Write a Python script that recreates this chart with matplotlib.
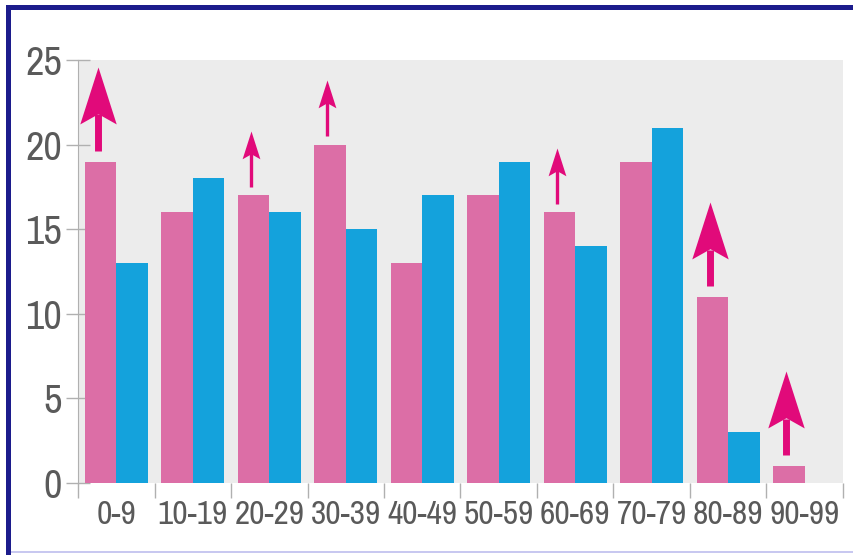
import matplotlib
matplotlib.use("Agg")
import matplotlib.pyplot as plt
from matplotlib import font_manager
from matplotlib.patches import Rectangle
from matplotlib.path import Path
import numpy as np

# data
categories = ['0-9', '10-19', '20-29', '30-39', '40-49',
              '50-59', '60-69', '70-79', '80-89', '90-99']
pink_values = [19, 16, 17, 20, 13, 17, 16, 19, 11, 1]
blue_values = [13, 18, 16, 15, 17, 19, 14, 21, 3, 0]
y_ticks = [0, 5, 10, 15, 20, 25]

# arrows drawn above some pink bars
arrow_cats = ['0-9', '20-29', '30-39', '60-69', '80-89', '90-99']
arrow_big = [True, False, False, False, True, True]

PINK = '#dc6ea6'
BLUE = '#14a2dc'
MAGENTA = '#e10a7a'
NAVY = '#1c1c8c'
TEXT = '#5a5a5a'
TICK = '#b0b0b0'

# the labels use a narrow sans; take one if it is installed
names = sorted({f.name for f in font_manager.fontManager.ttflist})
narrow = [n for n in names if 'Narrow' in n or 'Condensed' in n]
if narrow:
    fam, ysize, xsize = narrow[0], 29, 24
else:
    fam, ysize, xsize = 'Roboto', 24, 19
plt.rcParams['font.family'] = [fam, 'DejaVu Sans']

W, H = 854, 555
fig = plt.figure(figsize=(W / 100, H / 100), dpi=100)
fig.patch.set_facecolor('white')

# frame around the figure
fig.add_artist(Rectangle((6 / W, 0), 5 / W, 1 - 5 / H, transform=fig.transFigure,
                         color=NAVY, lw=0))
fig.add_artist(Rectangle((6 / W, 1 - 10 / H), 1 - 6 / W, 5 / H, transform=fig.transFigure,
                         color=NAVY, lw=0))
fig.add_artist(Rectangle((11 / W, 2 / H), 1 - 11 / W, 2 / H, transform=fig.transFigure,
                         color='#c8c8f0', lw=0))

ax = fig.add_axes([78 / W, 72 / H, 765 / W, 423 / H])
ax.set_facecolor('#ececec')

x = np.arange(len(categories))
bw = 0.41
ax.bar(x - bw / 2, pink_values, width=bw, color=PINK, zorder=2)
ax.bar(x + bw / 2, blue_values, width=bw, color=BLUE, zorder=2)

ax.set_xlim(-0.5, len(categories) - 0.5)
ax.set_ylim(0, 25)

# dart shaped arrow head, tip at the origin
dart = Path([(0, 0), (0.32, -1), (0, -0.82), (-0.32, -1), (0, 0)],
            [Path.MOVETO, Path.LINETO, Path.LINETO, Path.LINETO, Path.CLOSEPOLY])

for cat, big in zip(arrow_cats, arrow_big):
    i = categories.index(cat)
    xa = i - bw / 2 - 0.04
    base = pink_values[i]
    if big:
        tail, tip, ms, lw, head = base + 0.65, base + 5.6, 82, 5.0, 2.8
    else:
        tail, tip, ms, lw, head = base + 0.5, base + 3.8, 40, 2.4, 1.3
    ax.plot([xa, xa], [tail, tip - head], color=MAGENTA, lw=lw,
            solid_capstyle='butt', zorder=3)
    ax.plot([xa], [tip], marker=dart, markersize=ms, color=MAGENTA,
            markeredgewidth=0, linestyle='none', zorder=4)

for s in ['top', 'right']:
    ax.spines[s].set_visible(False)
ax.spines['left'].set_color(TICK)
ax.spines['bottom'].set_visible(False)

ax.set_yticks(y_ticks)
ax.set_yticklabels([str(v) for v in y_ticks], fontsize=ysize, color=TEXT)
ax.tick_params(axis='y', direction='inout', length=17, width=1, color=TICK, pad=3)

ax.set_xticks(x)
ax.set_xticklabels(categories, fontsize=xsize, color=TEXT)
ax.tick_params(axis='x', which='major', length=0, pad=12)
ax.set_xticks(np.arange(len(categories) + 1) - 0.5, minor=True)
ax.tick_params(axis='x', which='minor', direction='out', length=11, width=1, color=TICK)

fig.savefig('out.png', dpi=100)
